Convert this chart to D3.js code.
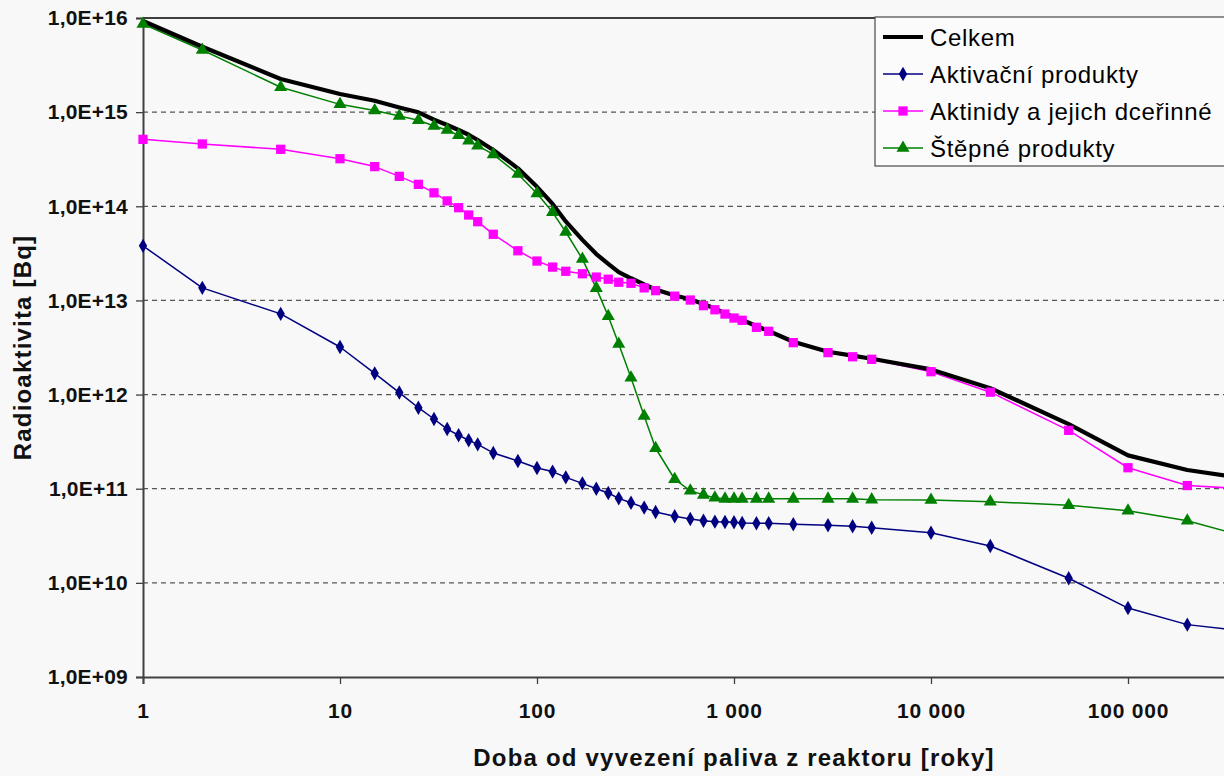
<!DOCTYPE html>
<html>
<head>
<meta charset="utf-8">
<script src="https://cdn.jsdelivr.net/npm/d3@7"></script>
<style>
  html, body { margin: 0; padding: 0; background: #f8f8f8; overflow: hidden; }
  svg { display: block; font-family: Arial, "Liberation Sans", sans-serif; }
</style>
</head>
<body>
<svg id="chart" width="1224" height="776"></svg>
<script>
// time since discharge from the reactor [years]
const years = [1, 2, 5, 10, 15, 20, 25, 30, 35, 40, 45, 50, 60, 80, 100, 120, 140, 170, 200, 230, 260, 300, 350, 400,
  500, 600, 700, 800, 900, 1000, 1100, 1300, 1500, 2000, 3000, 4000, 5000, 10000, 20000, 50000, 100000, 200000, 500000];

const celkem = [9.3e15, 4.95e15, 2.25e15, 1.56e15, 1.32e15, 1.12e15, 9.96e14, 8.3e14, 7.3e14, 6.46e14, 5.75e14, 5.06e14,
  3.96e14, 2.53e14, 1.61e14, 1.06e14, 6.9e13, 4.4e13, 3.11e13, 2.45e13, 2.0e13, 1.72e13, 1.48e13, 1.31e13,
  1.13e13, 1.03e13, 9.16e12, 8.24e12, 7.3e12, 6.62e12, 6.2e12, 5.35e12, 4.73e12, 3.64e12, 2.85e12, 2.59e12, 2.4e12,
  1.85e12, 1.17e12, 4.86e11, 2.26e11, 1.58e11, 1.19e11];

const aktivacni = [3.8e13, 1.36e13, 7.2e12, 3.2e12, 1.68e12, 1.05e12, 7.25e11, 5.5e11, 4.3e11, 3.7e11, 3.27e11, 2.96e11,
  2.4e11, 1.97e11, 1.66e11, 1.52e11, 1.32e11, 1.14e11, 1.0e11, 9.0e10, 7.9e10, 7.1e10, 6.3e10, 5.65e10,
  5.1e10, 4.76e10, 4.57e10, 4.47e10, 4.43e10, 4.4e10, 4.33e10, 4.3e10, 4.3e10, 4.19e10, 4.09e10, 3.99e10, 3.85e10,
  3.4e10, 2.46e10, 1.12e10, 5.4e9, 3.6e9, 2.9e9];

const aktinidy = [5.14e14, 4.59e14, 4.03e14, 3.2e14, 2.64e14, 2.08e14, 1.71e14, 1.39e14, 1.14e14, 9.66e13, 8.08e13, 6.86e13,
  5.04e13, 3.37e13, 2.62e13, 2.26e13, 2.04e13, 1.92e13, 1.77e13, 1.68e13, 1.56e13, 1.52e13, 1.36e13, 1.27e13,
  1.11e13, 1.01e13, 8.8e12, 7.96e12, 7.17e12, 6.5e12, 6.15e12, 5.18e12, 4.7e12, 3.56e12, 2.79e12, 2.52e12, 2.37e12,
  1.75e12, 1.06e12, 4.17e11, 1.67e11, 1.08e11, 9.7e10];

const stepne = [8.64e15, 4.57e15, 1.84e15, 1.21e15, 1.04e15, 9.1e14, 8.2e14, 7.13e14, 6.46e14, 5.67e14, 4.97e14, 4.4e14,
  3.56e14, 2.2e14, 1.37e14, 8.63e13, 5.33e13, 2.75e13, 1.35e13, 6.78e12, 3.44e12, 1.51e12, 5.92e11, 2.69e11,
  1.26e11, 9.5e10, 8.6e10, 8.0e10, 7.8e10, 7.8e10, 7.8e10, 7.8e10, 7.8e10, 7.8e10, 7.8e10, 7.8e10, 7.65e10,
  7.6e10, 7.28e10, 6.67e10, 5.84e10, 4.57e10, 2.7e10];

const seriesNames = ["Celkem", "Aktivační produkty", "Aktinidy a jejich dceřinné", "Štěpné produkty"];
const xTicks = [1, 10, 100, 1000, 10000, 100000];
const xTickLabels = ["1", "10", "100", "1 000", "10 000", "100 000"];
const yTicks = [1e9, 1e10, 1e11, 1e12, 1e13, 1e14, 1e15, 1e16];
const yTickLabels = ["1,0E+09", "1,0E+10", "1,0E+11", "1,0E+12", "1,0E+13", "1,0E+14", "1,0E+15", "1,0E+16"];

const svg = d3.select("#chart");
const W = 1224;

// plot area - the original chart runs to 1 000 000 but the picture is cut at 1224 px
const plotLeft = 143, plotTop = 18, plotBottom = 677;
const plotRight = plotLeft + 6 * 197;
const x = d3.scaleLog().domain([1, 1e6]).range([plotLeft, plotRight]);
const y = d3.scaleLog().domain([1e9, 1e16]).range([plotBottom, plotTop]);

svg.append("defs").append("clipPath").attr("id", "plotclip")
  .append("rect").attr("x", 0).attr("y", 0).attr("width", W).attr("height", plotBottom + 6);

// grid lines
svg.append("g")
  .selectAll("line")
  .data(yTicks.filter(d => d > 1e9))
  .enter().append("line")
    .attr("x1", plotLeft).attr("x2", W)
    .attr("y1", d => y(d)).attr("y2", d => y(d))
    .attr("stroke", d => d === 1e16 ? "#000" : "#555")
    .attr("stroke-width", 1.3)
    .attr("stroke-dasharray", d => d === 1e16 ? null : "5,4");

// y axis
const yAxis = svg.append("g")
  .attr("transform", "translate(" + plotLeft + ",0)")
  .call(d3.axisLeft(y).tickValues(yTicks).tickFormat((d, i) => yTickLabels[i]).tickSize(7).tickPadding(8));
yAxis.select(".domain").attr("stroke", "#404040").attr("stroke-width", 2);
yAxis.selectAll(".tick line").attr("stroke", "#404040").attr("stroke-width", 1.3);
yAxis.selectAll("text").attr("font-size", 21).attr("font-weight", "bold").attr("fill", "#111")
  .attr("font-family", "Arial, 'Liberation Sans', sans-serif").attr("letter-spacing", 0.2);

// x axis
const xAxis = svg.append("g")
  .attr("transform", "translate(0," + plotBottom + ")")
  .call(d3.axisBottom(x).tickValues(xTicks).tickFormat((d, i) => xTickLabels[i]).tickSize(7).tickPadding(19));
xAxis.select(".domain").attr("stroke", "#404040").attr("stroke-width", 2);
xAxis.selectAll(".tick line").attr("stroke", "#404040").attr("stroke-width", 1.3);
xAxis.selectAll("text").attr("font-size", 21).attr("font-weight", "bold").attr("fill", "#111")
  .attr("font-family", "Arial, 'Liberation Sans', sans-serif").attr("letter-spacing", 0.8);

// axis titles
svg.append("text")
  .attr("x", (plotLeft + plotRight) / 2).attr("y", 766)
  .attr("text-anchor", "middle")
  .attr("font-size", 24).attr("font-weight", "bold").attr("fill", "#111")
  .attr("letter-spacing", 1.2)
  .text("Doba od vyvezení paliva z reaktoru [roky]");

svg.append("text")
  .attr("transform", "translate(31," + (plotTop + plotBottom) / 2 + ") rotate(-90)")
  .attr("text-anchor", "middle")
  .attr("font-size", 24).attr("font-weight", "bold").attr("fill", "#111")
  .attr("letter-spacing", 1.2)
  .text("Radioaktivita [Bq]");

// series
const series = [
  { name: seriesNames[0], values: celkem, color: "#000000", width: 4.2, marker: null },
  { name: seriesNames[1], values: aktivacni, color: "#000080", width: 1.5, marker: "diamond" },
  { name: seriesNames[2], values: aktinidy, color: "#ff00ff", width: 1.5, marker: "square" },
  { name: seriesNames[3], values: stepne, color: "#008000", width: 1.5, marker: "triangle" }
];

const symbols = {
  diamond: d3.symbol().type(d3.symbolDiamond).size(60),
  square: d3.symbol().type(d3.symbolSquare).size(86),
  triangle: d3.symbol().type(d3.symbolTriangle).size(74)
};

const line = d3.line()
  .x((d, i) => x(years[i]))
  .y(d => y(d));

const plot = svg.append("g").attr("clip-path", "url(#plotclip)");

// thin series first, the total on top of them but under the markers
[1, 2, 3, 0].forEach(k => {
  const s = series[k];
  plot.append("path")
    .datum(s.values)
    .attr("fill", "none")
    .attr("stroke", s.color)
    .attr("stroke-width", s.width)
    .attr("stroke-linejoin", "round")
    .attr("d", line);
});

series.filter(s => s.marker).forEach(s => {
  plot.selectAll(".m-" + s.marker)
    .data(s.values)
    .enter().append("path")
      .attr("class", "m-" + s.marker)
      .attr("transform", (d, i) => "translate(" + x(years[i]) + "," + y(d) + ")")
      .attr("d", symbols[s.marker])
      .attr("fill", s.color);
});

// legend (its right edge is cut off like in the original picture)
const lg = svg.append("g").attr("transform", "translate(875,17)");
lg.append("rect")
  .attr("x", 0).attr("y", 0).attr("width", 380).attr("height", 149)
  .attr("fill", "#fbfbfb").attr("stroke", "#555").attr("stroke-width", 1.3);

series.forEach((s, i) => {
  const ly = 20 + i * 37;
  lg.append("line")
    .attr("x1", 8).attr("x2", 48).attr("y1", ly).attr("y2", ly)
    .attr("stroke", s.color).attr("stroke-width", s.width);
  if (s.marker) {
    lg.append("path")
      .attr("transform", "translate(28," + ly + ")")
      .attr("d", symbols[s.marker])
      .attr("fill", s.color);
  }
  lg.append("text")
    .attr("x", 55).attr("y", ly + 9)
    .attr("font-size", 24).attr("fill", "#000")
    .attr("letter-spacing", 0.7)
    .text(s.name);
});
</script>
</body>
</html>
